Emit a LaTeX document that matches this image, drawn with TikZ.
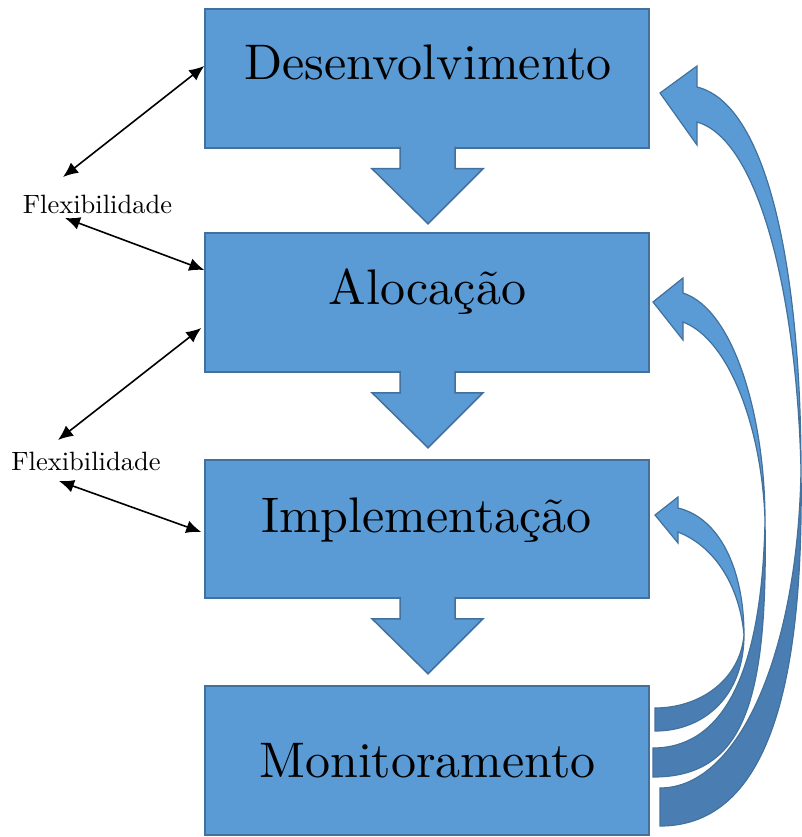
\documentclass[tikz,border=0pt]{standalone}
\usepackage{fontspec}
\usepackage{tikz}
\usetikzlibrary{arrows.meta}
\newfontfamily\boxfont{lmroman10-regular.otf}
\definecolor{boxblue}{HTML}{5B9BD5}
\definecolor{boxline}{HTML}{41719C}
\definecolor{darkblue}{HTML}{4A7EB3}
\begin{document}
\begin{tikzpicture}[x=1pt, y=-1pt,
            box/.style={draw=boxline, fill=boxblue, line width=1.5pt, minimum width=444pt, inner sep=0pt},
            boxtext/.style={anchor=base, inner sep=0pt, font=\boxfont\fontsize{50}{56}\selectfont},
            flextext/.style={anchor=base, inner sep=0pt, font=\boxfont\fontsize{26.5}{30}\selectfont},
            blockarrow/.style={draw=boxline, fill=boxblue, line width=1.5pt},
            curvelight/.style={draw=boxline, fill=boxblue, line width=1.2pt},
            curvedark/.style={draw=boxline, fill=darkblue, line width=1.2pt},
            flexarrow/.style={black, line width=1.6pt, {Latex[length=15pt,width=13pt]}-{Latex[length=15pt,width=13pt]}}]
            \useasboundingbox (0,0) rectangle (802,837);

            \node[box, minimum height=139pt] (B1) at (427,78.5) {};
            \node[box, minimum height=139pt] (B2) at (427,302.5) {};
            \node[box, minimum height=138pt] (B3) at (427,529) {};
            \node[box, minimum height=149pt] (B4) at (427,760.5) {};

            \node[boxtext] (T1) at (428,80) {Desenvolvimento};
            \node[boxtext] (T2) at (427.5,304) {Alocação};
            \node[boxtext] (T3) at (426.5,532) {Implementação};
            \node[boxtext] (T4) at (427.5,777) {Monitoramento};

            \draw[blockarrow, shift={(B1.south)}] (-27,-2) -- (-27,20) -- (-55,20) -- (1,75) -- (56,20) -- (28,20) -- (28,-2);
            \draw[blockarrow, shift={(B2.south)}] (-27,-2) -- (-27,20) -- (-55,20) -- (1,75) -- (56,20) -- (28,20) -- (28,-2);
            \draw[blockarrow, shift={(B3.south)}] (-27,-2) -- (-27,20) -- (-55,20) -- (1,75) -- (56,20) -- (28,20) -- (28,-2);

            \draw[curvedark] (660,788) .. controls (740,788) and (798,650) .. (801,470) .. controls (804,680) and (770,826) .. (660,826) -- cycle;
            \draw[curvelight] (697,87) -- (697,66) -- (660,93) -- (697,145) -- (697,122) .. controls (760,140) and (797,300) .. (801,470) .. controls (801,280) and (770,105) .. (697,87) -- cycle;

            \draw[curvedark] (653,748) .. controls (720,748) and (762,680) .. (765,520) .. controls (768,700) and (745,777) .. (653,777) -- cycle;
            \draw[curvelight] (683,293) -- (683,278) -- (653,302) -- (683,340) -- (683,322) .. controls (730,340) and (762,430) .. (765,520) .. controls (765,420) and (735,310) .. (683,293) -- cycle;

            \draw[curvedark] (655,708) .. controls (700,708) and (740,680) .. (744,635) .. controls (744,695) and (705,731) .. (655,731) -- cycle;
            \draw[curvelight] (678,508) -- (678,497) -- (655,515) -- (678,543) -- (678,532) .. controls (718,548) and (740,590) .. (744,635) .. controls (744,570) and (720,518) .. (678,508) -- cycle;

            \node[flextext] (F1) at (97.5,213) {Flexibilidade};
            \node[flextext] (F2) at (86,470) {Flexibilidade};

            \draw[flexarrow] ([shift={(-34.5pt,36pt)}]F1.base) -- ([yshift=12.5pt]B1.west);
            \draw[flexarrow] ([shift={(-32.5pt,-5pt)}]F1.base) -- ([yshift=32.5pt]B2.west);
            \draw[flexarrow] ([shift={(-28pt,30pt)}]F2.base) -- ([shift={(-3pt,-25.5pt)}]B2.west);
            \draw[flexarrow] ([shift={(-27pt,-11pt)}]F2.base) -- ([shift={(-3pt,-3pt)}]B3.west);

        \end{tikzpicture}
\end{document}
